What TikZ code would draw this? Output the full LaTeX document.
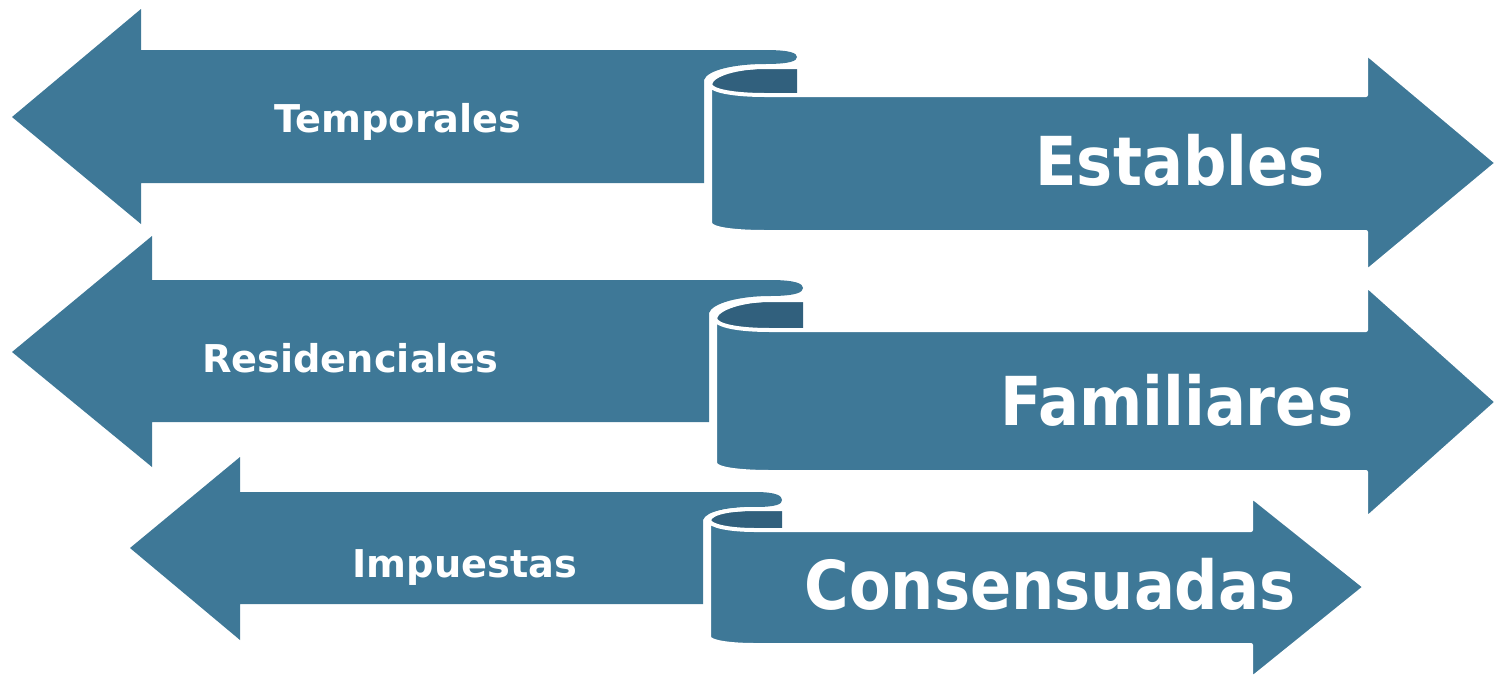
\documentclass[tikz,border=0pt]{standalone}
\usepackage{fontspec}
\setmainfont{DejaVu Sans}
\newfontfamily\condfont{DejaVu Sans Condensed}
\usepackage{tikz}
\definecolor{bandblue}{HTML}{3E7897}
\definecolor{innerblue}{HTML}{31607D}

\begin{document}
\begin{tikzpicture}[x=0.02cm, y=-0.02cm,
    band/.style={fill=bandblue},
    front/.style={fill=bandblue, draw=white, line width=0.08cm, line join=round},
    rim/.style={draw=white, line width=0.08cm},
    inner/.style={fill=innerblue},
    small/.style={anchor=base, inner sep=0pt, text=white, font=\bfseries\fontsize{21.8}{26}\selectfont},
    big/.style={anchor=base, inner sep=0pt, text=white, font=\condfont\bfseries\fontsize{38.4}{46}\selectfont}]
  \useasboundingbox (0,0) rectangle (1495,677);
  % first row
  \fill[band] (12,117) -- (141,9) -- (141,50) -- (765,50) .. controls (790,50) and (797,53) .. (797,57) .. controls (797,61) and (790,64) .. (765,64) .. controls (735,64) and (707,70) .. (704,80) -- (704,183) -- (141,183) -- (141,224) -- cycle;
  \fill[inner] (710,84) .. controls (712,74) and (738,69) .. (765,69) -- (797,69) -- (797,95) -- (765,95) .. controls (735,95) and (710,92) .. (710,84) -- cycle;
  \draw[rim] (710,84) .. controls (712,74) and (738,67) .. (765,67) -- (799,67);
  \filldraw[front] (710,84) .. controls (710,91) and (735,95) .. (765,95) -- (1366,95) -- (1366,53) -- (1497,163) -- (1366,272) -- (1366,232) -- (765,232) .. controls (735,232) and (710,229) .. (710,223) -- cycle;
  \node[small] (temporales) at (398,132) {Temporales};
  \node[big] (estables) at (1180,185) {Estables};
  % second row
  \fill[band] (12,352) -- (152,236) -- (152,280) -- (770,280) .. controls (797,280) and (803,284) .. (803,288) .. controls (803,292) and (797,296) .. (770,296) .. controls (740,296) and (712,303) .. (709,313) -- (709,422) -- (152,422) -- (152,467) -- cycle;
  \fill[inner] (715,318) .. controls (717,308) and (743,302) .. (770,302) -- (803,302) -- (803,330) -- (770,330) .. controls (740,330) and (715,326) .. (715,318) -- cycle;
  \draw[rim] (715,318) .. controls (717,308) and (743,300) .. (770,300) -- (805,300);
  \filldraw[front] (715,318) .. controls (715,326) and (740,330) .. (770,330) -- (1366,330) -- (1366,285) -- (1497,402) -- (1366,519) -- (1366,472) -- (770,472) .. controls (740,472) and (715,469) .. (715,463) -- cycle;
  \node[small] (residenciales) at (350,372) {Residenciales};
  \node[big] (familiares) at (1177,425) {Familiares};
  % third row
  \fill[band] (130,548) -- (240,457) -- (240,492) -- (755,492) .. controls (777,492) and (782,496) .. (782,500) .. controls (782,504) and (777,507) .. (755,507) .. controls (728,507) and (706,511) .. (703,520) -- (703,604) -- (240,604) -- (240,640) -- cycle;
  \fill[inner] (709,520) .. controls (711,513) and (733,511) .. (755,511) -- (782,511) -- (782,530) -- (755,530) .. controls (733,530) and (709,527) .. (709,520) -- cycle;
  \draw[rim] (709,520) .. controls (711,512) and (733,509) .. (755,509) -- (784,509);
  \filldraw[front] (709,520) .. controls (709,526) and (730,530) .. (755,530) -- (1251,530) -- (1251,496) -- (1365,587) -- (1251,679) -- (1251,645) -- (755,645) .. controls (730,645) and (709,642) .. (709,637) -- cycle;
  \node[small] (impuestas) at (465,577) {Impuestas};
  \node[big] (consensuadas) at (1050,609) {Consensuadas};
\end{tikzpicture}
\end{document}
